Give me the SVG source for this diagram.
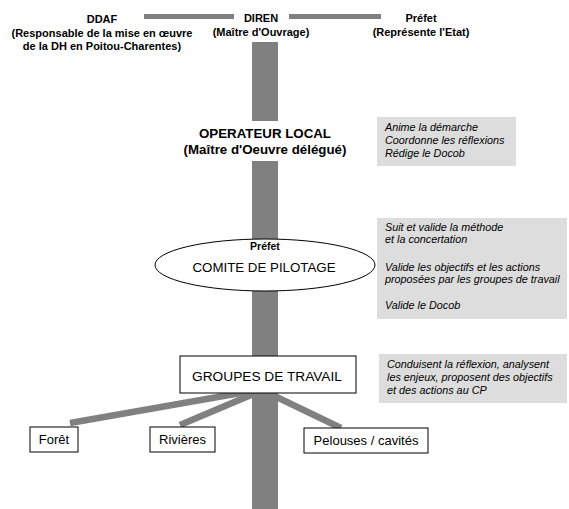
<svg xmlns="http://www.w3.org/2000/svg" width="569" height="509" viewBox="0 0 569 509">
<style>
text{font-family:"Liberation Sans",Arial,sans-serif;fill:#000}
.b{font-weight:bold;font-size:11px;text-anchor:middle}
.op{font-weight:bold;font-size:13.3px;text-anchor:middle}
.it{font-style:italic;font-size:10.8px}
.n{font-size:13px;text-anchor:middle}
.big{font-size:13.7px;text-anchor:middle}
.bar{fill:#808080}
.br{stroke:#808080;stroke-width:6.5;fill:none}
.note{fill:#dddddd}
.box{fill:#fff;stroke:#000;stroke-width:1}
</style>
<g id="connectors">
<rect class="bar" x="144" y="14" width="90" height="5"/>
<rect class="bar" x="289" y="14" width="92" height="5"/>
<rect class="bar" x="252" y="42" width="26" height="467"/>
<line class="br" x1="252" y1="391" x2="70" y2="423"/>
<line class="br" x1="258" y1="392" x2="180" y2="425"/>
<line class="br" x1="262" y1="390" x2="341" y2="428"/>
</g>
<g id="ddaf">
<text class="b" x="102" y="23">DDAF</text>
<text class="b" x="102" y="37">(Responsable de la mise en œuvre</text>
<text class="b" x="102" y="50">de la DH en Poitou-Charentes)</text>
</g>
<g id="diren">
<text class="b" x="261" y="22">DIREN</text>
<text class="b" x="261" y="36">(Maître d'Ouvrage)</text>
</g>
<g id="prefet">
<text class="b" x="421" y="22">Préfet</text>
<text class="b" x="421" y="36">(Représente l'Etat)</text>
</g>
<g id="operateur">
<rect x="196" y="121" width="138" height="40" fill="#fff"/>
<text class="op" x="265" y="138">OPERATEUR LOCAL</text>
<text class="op" x="265" y="154">(Maître d'Oeuvre délégué)</text>
</g>
<g id="note-operateur">
<rect class="note" x="377" y="117" width="139" height="49"/>
<text class="it" x="385" y="131">Anime la démarche</text>
<text class="it" x="385" y="144">Coordonne les réflexions</text>
<text class="it" x="385" y="157">Rédige le Docob</text>
</g>
<g id="comite">
<ellipse class="box" cx="265" cy="265" rx="110" ry="26"/>
<text class="b" x="265" y="250" style="font-size:10.5px">Préfet</text>
<text class="n" x="264" y="272" style="font-size:13.3px">COMITE DE PILOTAGE</text>
</g>
<g id="note-comite">
<rect class="note" x="377" y="218" width="190" height="101"/>
<text class="it" x="385" y="231">Suit et valide la méthode</text>
<text class="it" x="385" y="243">et la concertation</text>
<text class="it" x="385" y="271">Valide les objectifs et les actions</text>
<text class="it" x="385" y="283">proposées par les groupes de travail</text>
<text class="it" x="385" y="309">Valide le Docob</text>
</g>
<g id="groupes">
<rect class="box" x="180" y="356" width="176" height="37"/>
<text class="big" x="267" y="381">GROUPES DE TRAVAIL</text>
</g>
<g id="note-groupes">
<rect class="note" x="379" y="354" width="188" height="49"/>
<text class="it" x="387" y="368">Conduisent la réflexion, analysent</text>
<text class="it" x="387" y="381">les enjeux, proposent des objectifs</text>
<text class="it" x="387" y="394">et des actions au CP</text>
</g>
<g id="foret">
<rect class="box" x="30" y="427" width="48" height="25"/>
<text class="n" x="54" y="444">Forêt</text>
</g>
<g id="rivieres">
<rect class="box" x="150" y="427" width="65" height="25"/>
<text class="n" x="182.5" y="444">Rivières</text>
</g>
<g id="pelouses">
<rect class="box" x="304" y="428" width="124" height="25"/>
<text class="n" x="366" y="445">Pelouses / cavités</text>
</g>
</svg>
